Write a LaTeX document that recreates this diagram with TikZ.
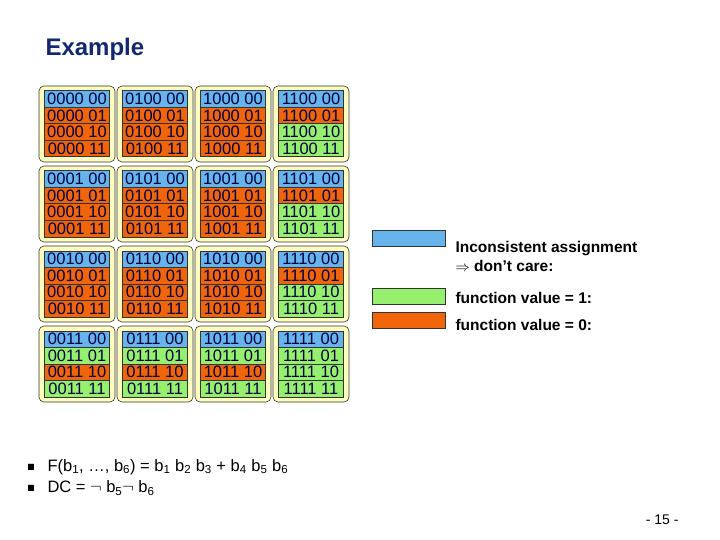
\documentclass[tikz,border=0pt]{standalone}
\usepackage{amssymb}
\usepackage{fontspec}
\setmainfont{Liberation Sans}
\begin{document}
\begin{tikzpicture}[x=1pt,y=-1pt,
  cellbox/.style={fill=yellow!25!white,draw=black!80,rounded corners=5pt,line width=0.6pt},
  bit/.style={draw=black!80,line width=0.5pt,minimum width=65pt,minimum height=16.5pt,inner sep=0pt,font=\fontsize{16.5}{16}\selectfont,text=black!75!blue},
  txt/.style={font=\fontsize{15.5}{19}\selectfont\bfseries,anchor=west}]
\definecolor{dcc}{RGB}{102,180,235}
\definecolor{onec}{RGB}{150,240,110}
\definecolor{zeroc}{RGB}{240,100,10}
\definecolor{titlec}{RGB}{20,40,110}
\tikzset{dc/.style={fill=dcc},one/.style={fill=onec},zero/.style={fill=zeroc}}
\useasboundingbox (0,0) rectangle (720,540);
\node[anchor=west,font=\fontsize{24}{24}\selectfont\bfseries,text=titlec] (title) at (42,49) {Example};
\foreach \c in {0,1,2,3}{
 \foreach \r in {0,1,2,3}{
  \pgfmathsetmacro{\xx}{39+\c*78}
  \pgfmathsetmacro{\yy}{86+\r*80}
  \draw[cellbox] (\xx,\yy) rectangle ++(76,76);
 }}
\foreach \c/\ab in {0/00,1/01,2/10,3/11}{
 \foreach \r/\cd in {0/00,1/01,2/10,3/11}{
  \foreach \s/\ef in {0/00,1/01,2/10,3/11}{
   \pgfmathsetmacro{\xx}{77+\c*78}
   \pgfmathsetmacro{\yy}{99+\r*80+\s*16.5}
   \def\sty{zero}
   \ifnum\s=0 \def\sty{dc}\else
     \ifnum\c=3 \ifnum\s>1 \def\sty{one}\fi\fi
     \ifnum\r=3 \ifodd\s \def\sty{one}\fi\fi
   \fi
   \node[bit,\sty] (b\c\r\s) at (\xx,\yy) {\ab\cd\ \ef};
  }}}
\draw[draw=black!80,fill=dcc] (372,230) rectangle (445,246);
\draw[draw=black!80,fill=onec] (372,288) rectangle (445,304);
\draw[draw=black!80,fill=zeroc] (372,312) rectangle (445,328);
\node[txt,align=left] (l1) at (452,256) {Inconsistent assignment\\$\Rightarrow$ don't care:};
\node[txt] (l2) at (452,298) {function value = 1:};
\node[txt] (l3) at (452,325) {function value = 0:};
\node[anchor=west] (f1) at (24,467) {\fontsize{9}{9}\selectfont$\blacksquare$};
\node[anchor=west,font=\fontsize{16.5}{16}\selectfont] (p1) at (44,467) {F(b\textsubscript{1}, \dots, b\textsubscript{6}) = b\textsubscript{1} b\textsubscript{2} b\textsubscript{3} + b\textsubscript{4} b\textsubscript{5} b\textsubscript{6}};
\node[anchor=west] (f2) at (24,488) {\fontsize{9}{9}\selectfont$\blacksquare$};
\node[anchor=west,font=\fontsize{16.5}{16}\selectfont] (p2) at (44,488) {DC = $\neg$ b\textsubscript{5}$\neg$ b\textsubscript{6}};
\node[anchor=east,font=\fontsize{14}{14}\selectfont] (pg) at (682,520) {- 15 -};
\end{tikzpicture}
\end{document}
